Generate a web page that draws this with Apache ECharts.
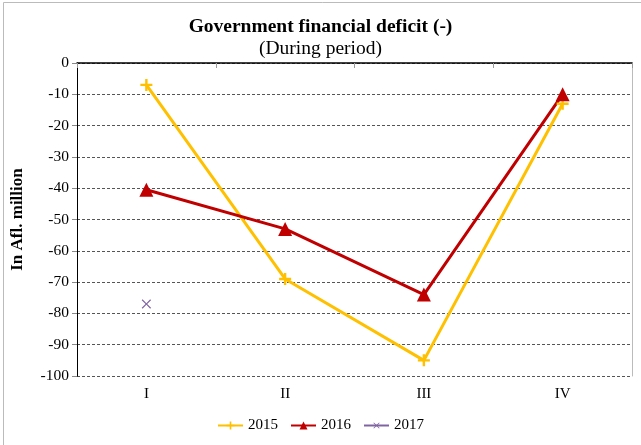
<!DOCTYPE html>
<html><head><meta charset="utf-8">
<script src="https://cdn.jsdelivr.net/npm/echarts@6/dist/echarts.min.js"></script>
<style>html,body{margin:0;padding:0;background:#fff}#c{width:641px;height:445px}</style>
</head><body><div id="c"></div>
<script>
const categories = ['I', 'II', 'III', 'IV'];
const s2015 = [-7, -69, -95, -13];
const s2016 = [-40.5, -53, -74, -10];
const s2017 = [-77, null, null, null];
const seriesNames = ['2015', '2016', '2017'];

const serif = '"Liberation Serif", "Times New Roman", serif';
const plusPath = 'path://M4,0h2v4h4v2h-4v4h-2v-4h-4v-2h4z';
const xPath = 'path://M4.5,0h1v4.5h4.5v1h-4.5v4.5h-1v-4.5h-4.5v-1h4.5z';

const chart = echarts.init(document.getElementById('c'), null, {renderer: 'canvas'});
chart.setOption({
  animation: false,
  backgroundColor: '#fff',
  title: {
    text: 'Government financial deficit (-)',
    subtext: '(During period)',
    left: 'center', top: 12, itemGap: 2,
    textStyle: {fontFamily: serif, fontWeight: 'bold', fontSize: 19.5, color: '#000'},
    subtextStyle: {fontFamily: serif, fontSize: 19.5, color: '#000'}
  },
  legend: {
    bottom: 7, left: 'center', itemWidth: 25, itemHeight: 10, itemGap: 12,
    textStyle: {fontFamily: serif, fontSize: 15, color: '#000'},
    data: seriesNames
  },
  grid: {left: 77, right: 9, top: 63, bottom: 69, containLabel: false},
  xAxis: [{
    type: 'category', data: categories, position: 'bottom',
    axisLine: {show: false}, axisTick: {show: false},
    axisLabel: {fontFamily: serif, fontSize: 15, color: '#000', margin: 11}
  }, {
    type: 'category', data: categories, position: 'top',
    axisLine: {show: true, lineStyle: {color: '#000', width: 1.5}},
    axisTick: {show: true, inside: true, length: 5, lineStyle: {color: '#999'}},
    axisLabel: {show: false}
  }],
  yAxis: [{
    type: 'value', min: -100, max: 0, interval: 10,
    name: 'In Afl. million', nameLocation: 'middle', nameGap: 51,
    nameTextStyle: {fontFamily: serif, fontWeight: 'bold', fontSize: 17, color: '#000'},
    axisLine: {show: true, lineStyle: {color: '#000', width: 1}},
    axisTick: {show: true, length: 5, lineStyle: {color: '#888'}},
    axisLabel: {fontFamily: serif, fontSize: 15.5, color: '#000', margin: 8},
    splitLine: {show: true, lineStyle: {color: '#555', type: [3, 2], width: 1}}
  }, {
    type: 'value', min: -100, max: 0, interval: 10, position: 'right',
    axisLine: {show: true, lineStyle: {color: '#bbb'}},
    axisTick: {show: false}, axisLabel: {show: false}, splitLine: {show: false}
  }],
  graphic: [{
    type: 'rect', shape: {x: 3.5, y: 2.5, width: 700, height: 500},
    style: {fill: 'none', stroke: '#bbb', lineWidth: 1}, silent: true, z: -1
  }],
  series: [{
    name: '2015', type: 'line', data: s2015,
    symbol: plusPath, symbolSize: 12,
    lineStyle: {color: '#FFC000', width: 3},
    itemStyle: {color: '#FFC000'}
  }, {
    name: '2016', type: 'line', data: s2016,
    symbol: 'triangle', symbolSize: 14,
    lineStyle: {color: '#C00000', width: 3},
    itemStyle: {color: '#C00000'}
  }, {
    name: '2017', type: 'line', data: s2017,
    symbol: xPath, symbolSize: 12, symbolRotate: 45,
    lineStyle: {color: '#8064A2', width: 3},
    itemStyle: {color: '#8064A2'}
  }]
});
</script></body></html>
